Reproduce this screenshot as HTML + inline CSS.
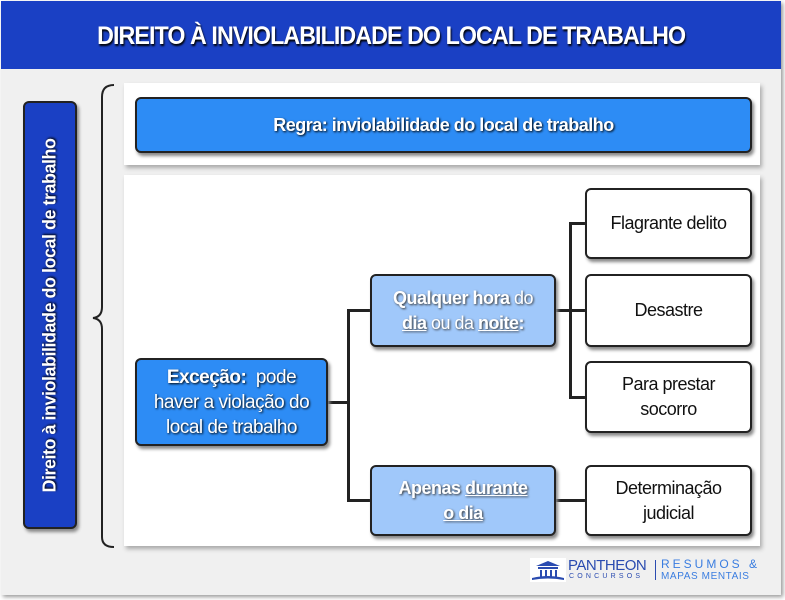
<!DOCTYPE html>
<html><head><meta charset="utf-8"><style>
*{margin:0;padding:0;box-sizing:border-box}
body{width:785px;height:600px;background:#fff;font-family:"Liberation Sans",sans-serif;position:relative;overflow:hidden}
.frame{position:absolute;left:1px;top:1px;width:780px;height:594px;background:#f0f0f0;box-shadow:2px 2px 4px #999}
.hdr{position:absolute;left:1px;top:1px;width:780px;height:68px;background:#1a40c4;color:#fff;font-weight:bold;font-size:25px;text-align:center;line-height:70px;letter-spacing:-1px;text-shadow:1px 2px 2px #000}
.hdr span{display:inline-block;transform:scaleX(0.93)}
.abs{position:absolute}
.panel{position:absolute;background:#fff;box-shadow:2px 3px 4px #aaa}
.box{position:absolute;border:2.5px solid #222;border-radius:6px;display:flex;align-items:center;justify-content:center;text-align:center;font-size:18px;line-height:25px;box-shadow:2px 3px 3px #888;letter-spacing:-0.5px}
.dk{background:#2d8cf5;color:#fff;text-shadow:1px 1px 2px #000}
.lt{background:#a0c8fa;color:#fff;text-shadow:1px 1px 2px #333}
.wh{background:#fff;color:#111}
.ln{position:absolute;background:#222}
u{text-decoration:underline}
</style></head><body>
<div class="frame"></div>
<div class="hdr"><span>DIREITO À INVIOLABILIDADE DO LOCAL DE TRABALHO</span></div>
<div class="box" style="left:23px;top:101px;width:54px;height:428px;background:#1a40c4;color:#fff;text-shadow:1px 1px 2px #000"><div style="transform:rotate(-90deg);white-space:nowrap;font-weight:bold;font-size:18px">Direito à inviolabilidade do local de trabalho</div></div>
<svg class="abs" style="left:88px;top:82px" width="30" height="470"><path d="M26 3 Q14 3 14 15 L14 225 Q14 235 5 236 Q14 237 14 247 L14 455 Q14 465 26 465" fill="none" stroke="#222" stroke-width="2"/></svg>
<div class="panel" style="left:124px;top:83px;width:636px;height:82px"></div>
<div class="box dk" style="left:135px;top:97px;width:617px;height:56px;font-weight:bold">Regra: inviolabilidade do local de trabalho</div>
<div class="panel" style="left:124px;top:175px;width:636px;height:371px"></div>
<div class="ln" style="left:327px;top:401px;width:22px;height:2.5px"></div>
<div class="ln" style="left:347px;top:309px;width:2.5px;height:192px"></div>
<div class="ln" style="left:347px;top:309px;width:24px;height:2.5px"></div>
<div class="ln" style="left:347px;top:499px;width:24px;height:2.5px"></div>
<div class="ln" style="left:555px;top:309px;width:16px;height:2.5px"></div>
<div class="ln" style="left:569px;top:222px;width:2.5px;height:176px"></div>
<div class="ln" style="left:569px;top:222px;width:17px;height:2.5px"></div>
<div class="ln" style="left:569px;top:309px;width:17px;height:2.5px"></div>
<div class="ln" style="left:569px;top:396px;width:17px;height:2.5px"></div>
<div class="ln" style="left:555px;top:499px;width:31px;height:2.5px"></div>
<div class="box dk" style="left:135px;top:358px;width:193px;height:88px;font-size:19px"><div><b>Exceção:</b>&nbsp; pode<br>haver a violação do<br>local de trabalho</div></div>
<div class="box lt" style="left:370px;top:274px;width:186px;height:73px"><div><b>Qualquer hora</b> do<br><b><u>dia</u></b> ou da <b><u>noite</u>:</b></div></div>
<div class="box lt" style="left:370px;top:465px;width:186px;height:71px;font-weight:bold"><div>Apenas <u>durante</u><br><u>o dia</u></div></div>
<div class="box wh" style="left:585px;top:188px;width:167px;height:71px">Flagrante delito</div>
<div class="box wh" style="left:585px;top:274px;width:167px;height:73px">Desastre</div>
<div class="box wh" style="left:585px;top:361px;width:167px;height:72px"><div>Para prestar<br>socorro</div></div>
<div class="box wh" style="left:585px;top:465px;width:167px;height:71px"><div>Determinação<br>judicial</div></div>
<div class="abs" style="left:530px;top:558px;width:36px;height:24px;background:#fff"><svg width="36" height="24"><path d="M6 8 L18 3 L30 8 Z M8 9h20v2H8z M10 12h2v7h-2z M15 12h2v7h-2z M20 12h2v7h-2z M25 12h2v7h-2z M2 20 Q18 16 34 20 L34 22 Q18 19 2 22Z" fill="#2a4bb0"/></svg></div>
<div class="abs" style="left:568px;top:558px;color:#2a4bb0;font-size:15px;line-height:15px;letter-spacing:-0.5px">PANTHEON</div>
<div class="abs" style="left:569px;top:573px;color:#2a4bb0;font-size:7px;letter-spacing:3.2px">CONCURSOS</div>
<div class="abs" style="left:655px;top:560px;width:1px;height:20px;background:#2a4bb0"></div>
<div class="abs" style="left:661px;top:558px;color:#3a7de0;font-size:12px;letter-spacing:3px;line-height:12px">RESUMOS &amp;</div>
<div class="abs" style="left:661px;top:571px;color:#3a7de0;font-size:10px;letter-spacing:0.6px;line-height:11px">MAPAS MENTAIS</div>
</body></html>
